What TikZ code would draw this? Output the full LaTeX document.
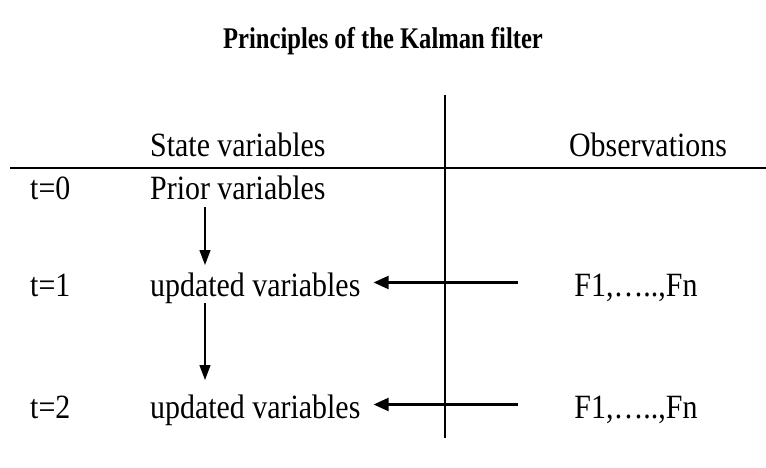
\documentclass[tikz,border=0pt]{standalone}
\usepackage{fontspec}
\setmainfont{Liberation Serif}
% narrow cuts of the serif face
\newfontfamily\bodyfont[FakeStretch=0.88]{Liberation Serif}
\newfontfamily\headfont[FakeStretch=0.82]{Liberation Serif}
\usetikzlibrary{arrows.meta}

\begin{document}
\begin{tikzpicture}[x=1pt, y=-1pt, >={Triangle[length=15pt,width=11pt]},
  txt/.style={anchor=base west, inner sep=0pt, font=\bodyfont\fontsize{34}{40}\selectfont},
  vstep/.style={->, line width=1.3pt},
  obsin/.style={->, line width=2.2pt, >={Triangle[length=15pt,width=13pt]}}]
\useasboundingbox (0,0) rectangle (766,468);

% Title
\node[anchor=base, inner sep=0pt, font=\headfont\fontsize{30}{34}\selectfont\bfseries] (title) at (383,49) {Principles of the Kalman filter};

% Table rules
\draw[line width=1.3pt] (445,95) coordinate(top) -- (445,438) coordinate(bottom);
\draw[line width=2.2pt] (10,168) coordinate(left) -- (766,168) coordinate(right);

% Column heads
\node[txt] (state) at (150,157) {State variables};
\node[txt, anchor=base] (obs) at (648,157) {Observations};

% Time steps
\node[txt] (t0) at (30,199) {t=0};
\node[txt] (t1) at (30,296) {t=1};
\node[txt] (t2) at (30,418) {t=2};

\node[txt] (prior) at (150,199) {Prior variables};
\node[txt] (upd1) at (150,296) {updated variables};
\node[txt] (upd2) at (150,418) {updated variables};

\node[txt, anchor=base] (obs1) at (636,296) {F1,…..,Fn};
\node[txt, anchor=base] (obs2) at (636,418) {F1,…..,Fn};

% Prediction steps
\draw[vstep] ([xshift=55pt,yshift=-8pt]prior.base west) -- ([xshift=55pt,yshift=31pt]upd1.base west);
\draw[vstep] ([xshift=55pt,yshift=-7pt]upd1.base west) -- ([xshift=55pt,yshift=38pt]upd2.base west);

% Observation updates
\coordinate (in1) at (518,282.5);
\coordinate (in2) at (518,404.5);
\draw[obsin, shorten >=13pt] (in1) -- (in1 -| upd1.east);
\draw[obsin, shorten >=13pt] (in2) -- (in2 -| upd2.east);
\end{tikzpicture}
\end{document}
